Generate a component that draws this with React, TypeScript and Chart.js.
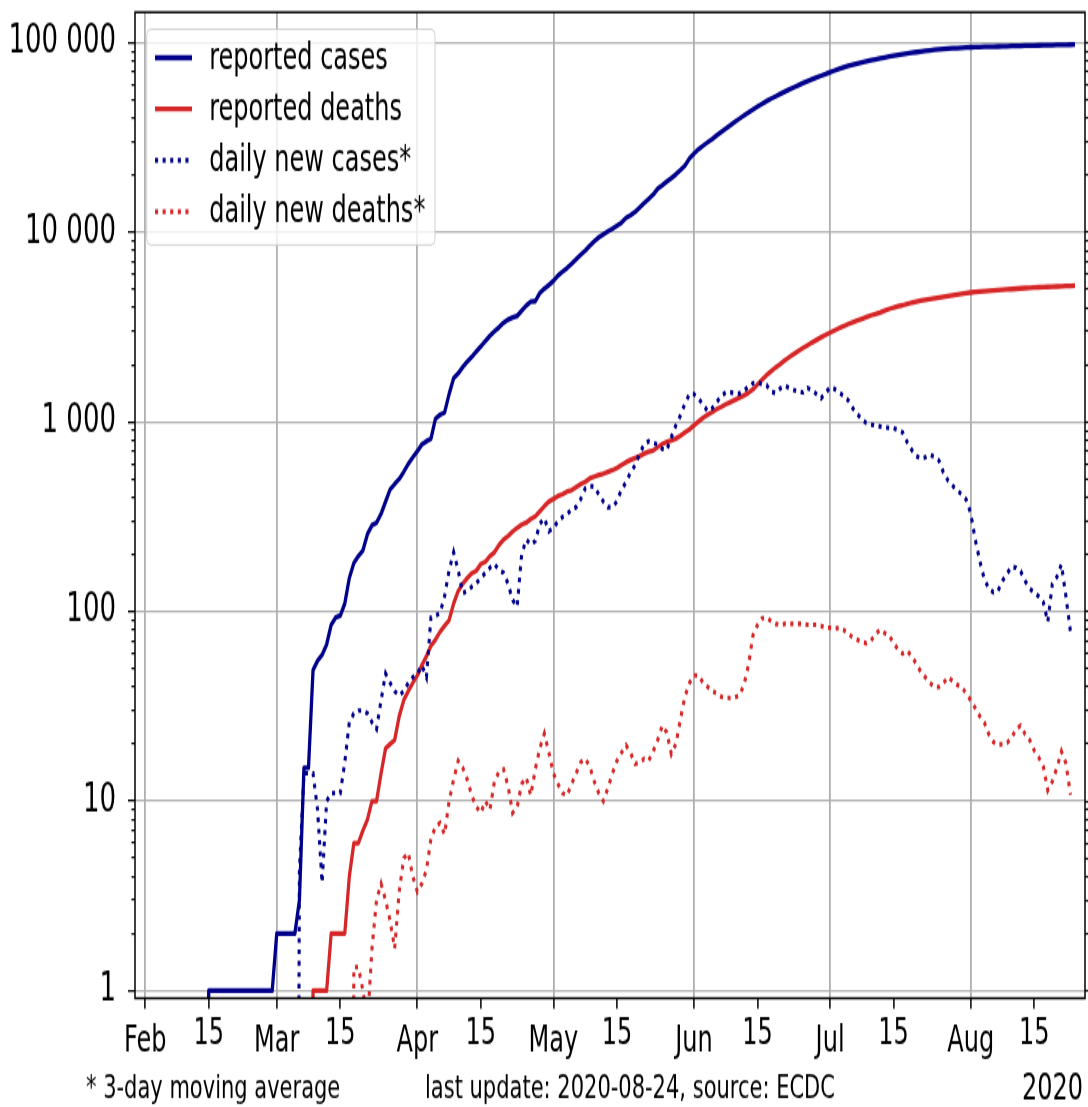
import React, { useEffect, useRef } from "react";
import { Chart, registerables } from "chart.js";

Chart.register(...registerables);

// Day index 0 = 2020-02-01. Every series holds one value per day,
// from 2020-02-14 (day 13) to 2020-08-24 (day 205).
const FIRST_DAY = 13;

const reportedCases = [
  0, 1, 1, 1, 1, 1, 1, 1, 1, 1,
  1, 1, 1, 1, 1, 1, 2, 2, 2, 2,
  2, 3, 15, 15, 49, 55, 59, 67, 85, 93,
  95, 110, 150, 180, 196, 210, 256, 285, 294, 327,
  380, 440, 470, 500, 545, 600, 650, 700, 760, 790,
  815, 1040, 1090, 1120, 1400, 1700, 1800, 1940, 2080, 2200,
  2350, 2500, 2670, 2840, 3000, 3150, 3330, 3460, 3550, 3620,
  3860, 4100, 4300, 4330, 4780, 5040, 5270, 5540, 5900, 6190,
  6470, 6810, 7200, 7590, 7980, 8480, 8960, 9400, 9750, 10090,
  10430, 10830, 11230, 11900, 12300, 12800, 13500, 14250, 15000, 15800,
  17000, 17700, 18500, 19300, 20200, 21300, 22500, 24500, 26000, 27400,
  28600, 29800, 31000, 32400, 33800, 35200, 36700, 38200, 39700, 41200,
  42800, 44400, 46000, 47600, 49200, 50700, 52100, 53600, 55100, 56600,
  58100, 59600, 61100, 62600, 64100, 65500, 66900, 68300, 69800, 71300,
  72700, 74100, 75400, 76600, 77700, 78700, 79700, 80700, 81600, 82600,
  83500, 84400, 85300, 86200, 87000, 87700, 88400, 89100, 89700, 90400,
  91000, 91600, 92100, 92500, 92900, 93300, 93600, 93900, 94200, 94500,
  94700, 94850, 95000, 95150, 95280, 95400, 95550, 95700, 95870, 96040,
  96200, 96350, 96480, 96600, 96720, 96840, 96930, 97060, 97210, 97380,
  97500, 97580, 97650,
];

const reportedDeaths = [
  null, null, null, null, null, null, null, null, null, null,
  null, null, null, null, null, null, null, null, null, null,
  null, null, null, 0, 1, 1, 1, 1, 2, 2,
  2, 2, 4, 6, 6, 7, 8, 10, 10, 14,
  19, 20, 21, 28, 34, 38, 42, 46, 52, 58,
  66, 71, 78, 84, 90, 110, 128, 140, 150, 159,
  164, 178, 183, 196, 205, 224, 239, 250, 264, 276,
  287, 294, 307, 317, 337, 359, 380, 392, 406, 415,
  429, 436, 452, 469, 482, 503, 514, 525, 533, 544,
  556, 571, 592, 612, 630, 645, 659, 680, 696, 707,
  735, 764, 783, 797, 816, 845, 879, 913, 959, 1005,
  1052, 1088, 1126, 1166, 1198, 1237, 1271, 1306, 1342, 1377,
  1422, 1484, 1575, 1672, 1766, 1850, 1938, 2017, 2106, 2193,
  2278, 2365, 2450, 2533, 2620, 2702, 2789, 2872, 2953, 3035,
  3120, 3195, 3280, 3352, 3422, 3489, 3564, 3643, 3702, 3769,
  3858, 3935, 4008, 4069, 4120, 4188, 4253, 4302, 4352, 4399,
  4440, 4480, 4518, 4558, 4606, 4652, 4691, 4728, 4774, 4808,
  4838, 4865, 4888, 4912, 4930, 4951, 4971, 4992, 5009, 5035,
  5058, 5080, 5095, 5110, 5125, 5138, 5150, 5160, 5175, 5190,
  5205, 5215, 5225,
];

const dailyNewCases = [
  null, null, null, null, null, null, null, null, null, null,
  null, null, null, null, null, null, null, null, null, null,
  0, 4.3, 14, 14, 14, 9, 3.7, 10, 11, 11,
  11, 16, 26, 29, 30, 30, 29, 26, 24, 34,
  47, 42, 38, 36, 38, 42, 45, 47, 52, 45,
  93, 95, 98, 120, 165, 205, 165, 125, 128, 135,
  141, 150, 160, 170, 178, 165, 160, 140, 115, 106,
  200, 240, 225, 235, 290, 310, 265, 275, 300, 315,
  325, 345, 355, 390, 445, 460, 455, 415, 380, 355,
  355, 380, 440, 480, 540, 590, 680, 760, 790, 775,
  760, 720, 710, 830, 960, 1080, 1250, 1400, 1400, 1330,
  1230, 1140, 1180, 1270, 1370, 1430, 1430, 1420, 1410, 1460,
  1530, 1600, 1610, 1580, 1560, 1440, 1420, 1500, 1550, 1510,
  1470, 1450, 1430, 1510, 1470, 1400, 1330, 1420, 1520, 1490,
  1430, 1370, 1300, 1180, 1100, 1030, 985, 970, 955, 945,
  935, 930, 925, 905, 880, 780, 710, 660, 640, 650,
  670, 655, 625, 540, 490, 460, 435, 415, 390, 330,
  240, 185, 148, 132, 126, 128, 145, 158, 172, 170,
  163, 145, 132, 126, 120, 112, 88, 140, 152, 177,
  120, 78, null,
];

const dailyNewDeaths = [
  null, null, null, null, null, null, null, null, null, null,
  null, null, null, null, null, null, null, null, null, null,
  null, null, null, null, null, null, null, null, null, null,
  null, null, 0, 1.33, 1.33, 1.0, 0.67, 1.67, 3.0, 3.67,
  3.0, 2.33, 1.67, 3.33, 5.0, 5.33, 4.0, 3.33, 3.67, 4.33,
  6.33, 7.33, 7.67, 6.67, 10, 13, 16.3, 15, 13, 10.7,
  9.3, 8.67, 10, 9, 12.7, 14.3, 14.7, 12, 8.67, 9.3,
  12.3, 13.3, 10.7, 14.7, 19, 22.7, 18, 14, 12.3, 11,
  10.7, 12.3, 14, 16, 16.7, 15.3, 12.7, 11, 10, 11.7,
  14, 16.3, 18, 19.7, 18, 15.7, 16, 16.7, 16.3, 18.3,
  21, 25, 23, 17.7, 20, 27, 35.6, 42, 46, 46,
  42, 40, 38, 37, 35.5, 35, 35, 35.3, 36, 41,
  52, 75, 85, 92, 93, 89, 86, 85, 86, 86,
  86, 86, 86, 85, 85, 85, 84, 82, 82, 81,
  82, 80, 76, 73, 71, 69, 68, 70, 76, 80,
  77, 75, 68, 63, 60, 62, 58, 53, 48, 45,
  42, 40, 40, 42, 45, 43, 41, 40, 37, 34,
  31, 28, 26, 22.5, 20.5, 19.8, 20, 20.3, 21.5, 24,
  25, 22.5, 21, 18.5, 17, 15.2, 11.4, 12.7, 15, 18.3,
  15.8, 10.8, null,
];

const seriesLabels = ["reported cases", "reported deaths", "daily new cases*", "daily new deaths*"];

const xTickDays = [0, 14, 29, 43, 60, 74, 90, 104, 121, 135, 151, 165, 182, 196];
const xTickLabels = ["Feb", "15", "Mar", "15", "Apr", "15", "May", "15", "Jun", "15", "Jul", "15", "Aug", "15"];
const xMonthTicks = [0, 29, 60, 90, 121, 151, 182];

const yMajorTicks = [1, 10, 100, 1000, 10000, 100000];
const yMajorLabels = ["1", "10", "100", "1 000", "10 000", "100 000"];
const yMinorMultipliers = [2, 3, 4, 5, 6, 7, 8, 9];

const footnoteLeft = "* 3-day moving average";
const footnoteCenter = "last update: 2020-08-24, source: ECDC";
const yearLabel = "2020";

// ---- styling / layout (unstretched canvas; the picture is stretched 1.5x vertically) ----
const W = 1088;
const H = 738;
const STRETCH = 1107 / H;
const X_MIN = -2.25;
const X_MAX = 207.2;
const Y_MIN = 0.912;
const Y_MAX = 144500;
const BLUE = "#00008b";
const RED = "#d62728";
const GRID = "#b0b0b0";
const TEXT = "#000";
const FONT = "DejaVu Sans";
const LW_SOLID = 3.3;
const LW_DOT = 3.1;
const DOT = [3.1, 4.5];
const BELOW_AXIS = 1e-6; // zero plotted off the bottom, as a log axis clips it
const PLOT_TOP = 8.2;
const PLOT_BOTTOM = 665.5;
const PLOT_LEFT = 135;
const PLOT_RIGHT = 1085;

const yAllTicks: number[] = [];
yMajorTicks.forEach((m) => {
  yAllTicks.push(m);
  yMinorMultipliers.forEach((k) => {
    if (m * k <= Y_MAX) yAllTicks.push(m * k);
  });
});
const isYMajor = (v: number) => yMajorTicks.indexOf(v) >= 0;

const toPoints = (vals: (number | null)[]) =>
  vals.map((v, i) => ({ x: FIRST_DAY + i, y: v === 0 ? BELOW_AXIS : v }));

const framePlugin = {
  id: "frame",
  afterDatasetsDraw(chart: any) {
    const { ctx, chartArea: a } = chart;
    ctx.save();
    ctx.strokeStyle = "#000";
    ctx.lineWidth = 1.5;
    ctx.strokeRect(a.left, a.top, a.right - a.left, a.bottom - a.top);
    ctx.restore();
  },
};

const legendPlugin = {
  id: "insideLegend",
  afterDraw(chart: any) {
    const { ctx, chartArea: a } = chart;
    const bx = a.left + 11.7;
    const by = a.top + 11.3;
    const bw = 288.3;
    const bh = 143.8;
    const r = 4;
    ctx.save();
    ctx.beginPath();
    ctx.moveTo(bx + r, by);
    ctx.lineTo(bx + bw - r, by);
    ctx.quadraticCurveTo(bx + bw, by, bx + bw, by + r);
    ctx.lineTo(bx + bw, by + bh - r);
    ctx.quadraticCurveTo(bx + bw, by + bh, bx + bw - r, by + bh);
    ctx.lineTo(bx + r, by + bh);
    ctx.quadraticCurveTo(bx, by + bh, bx, by + bh - r);
    ctx.lineTo(bx, by + r);
    ctx.quadraticCurveTo(bx, by, bx + r, by);
    ctx.closePath();
    ctx.fillStyle = "rgba(255,255,255,0.8)";
    ctx.fill();
    ctx.strokeStyle = "rgba(204,204,204,0.9)";
    ctx.lineWidth = 1;
    ctx.stroke();
    chart.data.datasets.forEach((ds: any, i: number) => {
      const y = by + 19 + i * 34.2;
      ctx.strokeStyle = ds.borderColor;
      ctx.lineWidth = ds.borderWidth;
      ctx.lineCap = "butt";
      ctx.setLineDash(ds.borderDash || []);
      ctx.beginPath();
      ctx.moveTo(bx + 8.3, y);
      ctx.lineTo(bx + 45.3, y);
      ctx.stroke();
      ctx.setLineDash([]);
      ctx.fillStyle = TEXT;
      ctx.font = `24px "${FONT}"`;
      ctx.textAlign = "left";
      ctx.textBaseline = "alphabetic";
      ctx.fillText(ds.label, bx + 62.5, y + 7.2);
    });
    ctx.restore();
  },
};

const notesPlugin = {
  id: "notes",
  afterDraw(chart: any) {
    const { ctx } = chart;
    ctx.save();
    ctx.fillStyle = TEXT;
    ctx.textBaseline = "alphabetic";
    ctx.font = `21px "${FONT}"`;
    ctx.textAlign = "left";
    ctx.fillText(footnoteLeft, 86, 732);
    ctx.fillText(footnoteCenter, 425, 732);
    ctx.font = `24px "${FONT}"`;
    ctx.textAlign = "right";
    ctx.fillText(yearLabel, 1083, 733);
    ctx.restore();
  },
};

function makeDataset(label: string, vals: (number | null)[], color: string, dotted: boolean, order: number) {
  return {
    label,
    data: toPoints(vals),
    borderColor: color,
    backgroundColor: color,
    borderWidth: dotted ? LW_DOT : LW_SOLID,
    borderDash: dotted ? DOT : [],
    borderCapStyle: "butt",
    borderJoinStyle: dotted ? "miter" : "round",
    pointRadius: 0,
    pointHoverRadius: 0,
    fill: false,
    tension: 0,
    spanGaps: false,
    order,
  };
}

export default function App() {
  const ref = useRef<HTMLCanvasElement | null>(null);

  useEffect(() => {
    if (!ref.current) return;
    const chart = new Chart(ref.current, {
      type: "line",
      data: {
        datasets: [
          makeDataset(seriesLabels[0], reportedCases, BLUE, false, 4),
          makeDataset(seriesLabels[1], reportedDeaths, RED, false, 3),
          makeDataset(seriesLabels[2], dailyNewCases, BLUE, true, 2),
          makeDataset(seriesLabels[3], dailyNewDeaths, RED, true, 1),
        ] as any,
      },
      options: {
        responsive: false,
        maintainAspectRatio: false,
        animation: false,
        devicePixelRatio: 1,
        events: [],
        layout: { padding: { top: PLOT_TOP, left: 0, right: 0, bottom: 0 } },
        plugins: { legend: { display: false }, tooltip: { enabled: false }, title: { display: false } },
        scales: {
          x: {
            type: "linear",
            min: X_MIN,
            max: X_MAX,
            afterBuildTicks: (scale: any) => {
              scale.ticks = xTickDays.map((v) => ({ value: v }));
            },
            afterFit: (scale: any) => {
              scale.height = H - PLOT_BOTTOM;
              scale.paddingLeft = 0;
              scale.paddingRight = 0;
            },
            border: { display: false },
            grid: {
              color: (c: any) => (c.tick && xMonthTicks.indexOf(c.tick.value) >= 0 ? GRID : "rgba(0,0,0,0)"),
              lineWidth: 1.8,
              tickColor: "#000",
              tickWidth: 1.5,
              tickLength: 7,
            },
            ticks: {
              autoSkip: false,
              maxRotation: 0,
              minRotation: 0,
              padding: 5,
              color: TEXT,
              font: (c: any) => {
                const isMonth = c.tick && xMonthTicks.indexOf(c.tick.value) >= 0;
                return { family: FONT, size: 24, lineHeight: isMonth ? "33.6px" : "24px" };
              },
              callback: (v: any) => {
                const i = xTickDays.indexOf(v);
                return i >= 0 ? xTickLabels[i] : "";
              },
            },
          },
          y: {
            type: "logarithmic",
            position: "left",
            min: Y_MIN,
            max: Y_MAX,
            afterBuildTicks: (scale: any) => {
              scale.ticks = yAllTicks.map((v) => ({ value: v }));
            },
            afterFit: (scale: any) => {
              scale.width = PLOT_LEFT;
              scale.paddingTop = 0;
              scale.paddingBottom = 0;
            },
            border: { display: false },
            grid: {
              color: (c: any) => (c.tick && isYMajor(c.tick.value) ? GRID : "rgba(0,0,0,0)"),
              lineWidth: 1.3,
              tickColor: "#000",
              tickWidth: 1.3,
              tickLength: 7,
              tickBorderDash: (c: any) => (c.tick && isYMajor(c.tick.value) ? [] : [0, 3.5, 30, 0]),
            },
            ticks: {
              autoSkip: false,
              padding: 12,
              color: TEXT,
              font: { family: FONT, size: 26 },
              callback: (v: any) => {
                const i = yMajorTicks.indexOf(v);
                return i >= 0 ? yMajorLabels[i] : "";
              },
            },
          },
          yRight: {
            type: "logarithmic",
            position: "right",
            min: Y_MIN,
            max: Y_MAX,
            afterBuildTicks: (scale: any) => {
              scale.ticks = yAllTicks.map((v) => ({ value: v }));
            },
            afterFit: (scale: any) => {
              scale.width = W - PLOT_RIGHT;
              scale.paddingTop = 0;
              scale.paddingBottom = 0;
            },
            border: { display: false },
            grid: {
              drawOnChartArea: false,
              tickColor: "#000",
              tickWidth: 1.3,
              tickLength: 7,
              tickBorderDash: (c: any) => (c.tick && isYMajor(c.tick.value) ? [] : [3.5, 30]),
            },
            ticks: { display: false, autoSkip: false },
          },
        },
      } as any,
      plugins: [framePlugin, legendPlugin, notesPlugin],
    });
    return () => chart.destroy();
  }, []);

  return (
    <div
      style={{
        position: "absolute",
        left: 0,
        top: 0,
        width: W,
        height: 1107,
        overflow: "hidden",
        background: "#fff",
      }}
    >
      <div style={{ width: W, height: H, transform: `scaleY(${STRETCH})`, transformOrigin: "0 0" }}>
        <canvas ref={ref} width={W} height={H} style={{ display: "block", width: W, height: H }} />
      </div>
    </div>
  );
}
